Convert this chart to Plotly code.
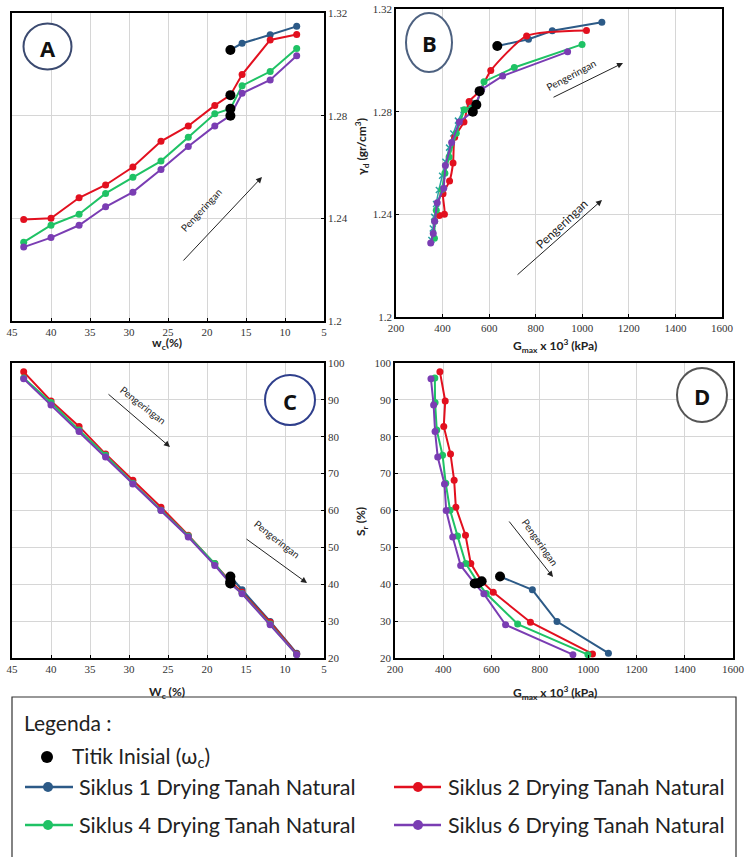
import plotly.graph_objects as go

# ---------------- data ----------------
wc_main = [43.5, 40.0, 36.4, 33.0, 29.5, 25.9, 22.4, 19.0, 17.0, 15.5, 11.9, 8.5]
wc_s1 = [17.0, 15.5, 11.9, 8.5]

gd_s1 = [1.3056, 1.3082, 1.3115, 1.3148]
gd_s2 = [1.2395, 1.2400, 1.2480, 1.2530, 1.2600, 1.2700, 1.2760, 1.2840, 1.2880, 1.2960, 1.3095, 1.3116]
gd_s4 = [1.2307, 1.2373, 1.2416, 1.2497, 1.2560, 1.2623, 1.2716, 1.2807, 1.2827, 1.2917, 1.2972, 1.3062]
gd_s6 = [1.2288, 1.2325, 1.2373, 1.2445, 1.2502, 1.2590, 1.2680, 1.2760, 1.2800, 1.2887, 1.2939, 1.3033]

sr_s1 = [42.1, 38.5, 29.9, 21.3]
sr_s2 = [97.6, 89.7, 82.8, 75.3, 68.2, 60.9, 53.3, 45.6, 40.8, 37.8, 29.7, 21.1]
sr_s4 = [95.9, 89.3, 81.8, 75.0, 67.4, 60.1, 53.1, 45.6, 40.3, 37.5, 29.2, 20.9]
sr_s6 = [95.7, 88.6, 81.4, 74.5, 67.2, 60.0, 52.8, 45.1, 40.2, 37.4, 29.0, 20.9]

g_s1 = [635, 769, 871, 1084]
g_s2 = [386, 408, 402, 430, 445, 452, 492, 514, 559, 607, 761, 1018]
g_s4 = [365, 366, 373, 397, 410, 428, 459, 493, 545, 578, 708, 999]
g_s6 = [349, 360, 366, 377, 405, 412, 439, 472, 530, 568, 658, 937]

# extra faint series visible only in panel B (x markers)
g_extra = [352, 358, 364, 372, 384, 398, 412, 428, 446, 466, 490, 515, 540]
gd_extra = [1.2300, 1.2345, 1.2390, 1.2440, 1.2495, 1.2550, 1.2605, 1.2660, 1.2715, 1.2765, 1.2805, 1.2820, 1.2835]

init_idx = 8  # index of initial point in the 12-point series

names = ["Siklus 1 Drying Tanah Natural", "Siklus 2 Drying Tanah Natural",
         "Siklus 4 Drying Tanah Natural", "Siklus 6 Drying Tanah Natural"]
colors = ["#2c5a87", "#e2101f", "#1fc265", "#7a3db3"]
init_name = "Titik Inisial (ω<sub>c</sub>)"
legend_title = "Legenda :"

W, H = 746, 857


def px(x, y):
    return x / W, 1 - y / H


fig = go.Figure()

series = [
    (wc_s1, gd_s1, sr_s1, g_s1),
    (wc_main, gd_s2, sr_s2, g_s2),
    (wc_main, gd_s4, sr_s4, g_s4),
    (wc_main, gd_s6, sr_s6, g_s6),
]

panels = [("x", "y", 0, 1), ("x2", "y2", 3, 1), ("x3", "y3", 0, 2), ("x4", "y4", 3, 2)]

fig.add_trace(go.Scatter(x=g_extra, y=gd_extra, mode="lines+markers", showlegend=False,
                         line=dict(color="#2aa3a3", width=1.5),
                         marker=dict(symbol="x-thin", size=6, line=dict(color="#2aa3a3", width=1.5)),
                         xaxis="x2", yaxis="y2", hoverinfo="skip"))

for pi, (xa, ya, xi, yi) in enumerate(panels):
    for si in range(4):
        s = series[si]
        shape = "spline" if (pi == 1 and si == 1) else "linear"
        fig.add_trace(go.Scatter(
            x=s[xi], y=s[yi], mode="lines+markers", name=names[si],
            line=dict(color=colors[si], width=2, shape=shape, smoothing=0.6),
            marker=dict(color=colors[si], size=7),
            showlegend=False, xaxis=xa, yaxis=ya))
    ix, iy = [], []
    for si in range(4):
        s = series[si]
        k = 0 if si == 0 else init_idx
        ix.append(s[xi][k])
        iy.append(s[yi][k])
    fig.add_trace(go.Scatter(x=ix, y=iy, mode="markers", name=init_name,
                             marker=dict(color="black", size=10),
                             showlegend=False, xaxis=xa, yaxis=ya))

# ---- custom legend glyphs on an overlay axis (page pixel units) ----
leg_rows = [
    (25, 73, 48, 787, 77, 0),
    (394, 441, 418, 787, 446, 1),
    (25, 73, 48, 825, 77, 2),
    (394, 441, 418, 825, 446, 3),
]
for x0, x1, xm, yy, xt, si in leg_rows:
    fig.add_trace(go.Scatter(x=[x0, xm, x1], y=[yy, yy, yy], mode="lines",
                             line=dict(color=colors[si], width=2.5), showlegend=False,
                             xaxis="x5", yaxis="y5", hoverinfo="skip"))
    fig.add_trace(go.Scatter(x=[xm], y=[yy], mode="markers",
                             marker=dict(color=colors[si], size=10), showlegend=False,
                             xaxis="x5", yaxis="y5", hoverinfo="skip"))
fig.add_trace(go.Scatter(x=[47], y=[757], mode="markers", marker=dict(color="black", size=12),
                         showlegend=False, xaxis="x5", yaxis="y5", hoverinfo="skip"))

tick_font = dict(family="Liberation Serif", size=11, color="#333333")
axis_common = dict(showline=True, linecolor="black", linewidth=1.5, mirror=True,
                   showgrid=True, gridcolor="#d6d6d6", gridwidth=1, zeroline=False,
                   ticks="inside", ticklen=3, tickcolor="black", tickfont=tick_font,
                   ticklabeloverflow="allow")

xa_dom = [px(12, 0)[0], px(324, 0)[0]]
xb_dom = [px(396, 0)[0], px(722, 0)[0]]
xd_dom = [px(395, 0)[0], px(733, 0)[0]]
ya_dom = [px(0, 321)[1], px(0, 13)[1]]
yb_dom = [px(0, 317)[1], px(0, 9)[1]]
yc_dom = [px(0, 658)[1], px(0, 363)[1]]

fig.update_layout(
    width=W, height=H, autosize=False,
    margin=dict(l=0, r=0, t=0, b=0, autoexpand=False),
    paper_bgcolor="white", plot_bgcolor="rgba(0,0,0,0)",
    showlegend=False,
    xaxis=dict(domain=xa_dom, range=[45, 5], dtick=5, anchor="y", **axis_common),
    yaxis=dict(domain=ya_dom, range=[1.2, 1.32], dtick=0.04, side="right", anchor="x", **axis_common),
    xaxis2=dict(domain=xb_dom, range=[200, 1600], dtick=200, anchor="y2", **axis_common),
    yaxis2=dict(domain=yb_dom, range=[1.2, 1.32], dtick=0.04, side="left", anchor="x2", **axis_common),
    xaxis3=dict(domain=xa_dom, range=[45, 5], dtick=5, anchor="y3", **axis_common),
    yaxis3=dict(domain=yc_dom, range=[20, 100], dtick=10, side="right", anchor="x3", **axis_common),
    xaxis4=dict(domain=xd_dom, range=[200, 1600], dtick=200, anchor="y4", **axis_common),
    yaxis4=dict(domain=yc_dom, range=[20, 100], dtick=10, side="left", anchor="x4", **axis_common),
    xaxis5=dict(domain=[0, 1], range=[0, W], visible=False, anchor="y5", fixedrange=True),
    yaxis5=dict(domain=[0, 1], range=[H, 0], visible=False, anchor="x5", fixedrange=True),
)

# ---------------- annotations ----------------
ann = []


def text_ann(x, y, text, size=12, angle=0, family="Lato", color="#222", xanchor="center"):
    xx, yy = px(x, y)
    ann.append(dict(x=xx, y=yy, xref="paper", yref="paper", text=text, showarrow=False,
                    textangle=angle, font=dict(family=family, size=size, color=color),
                    xanchor=xanchor, yanchor="middle"))


def arrow(tx, ty, hx, hy):
    xx, yy = px(hx, hy)
    ann.append(dict(x=xx, y=yy, xref="paper", yref="paper", text="", showarrow=True,
                    ax=tx - hx, ay=ty - hy, arrowhead=2, arrowsize=1.2, arrowwidth=1,
                    arrowcolor="#222"))


# axis titles
text_ann(167, 344, "<b>w<sub>c</sub>(%)</b>", 12)
text_ann(555, 346, "<b>G<sub>max</sub> x 10<sup>3</sup> (kPa)</b>", 12)
text_ann(167, 692, "<b>W<sub>c</sub> (%)</b>", 12)
text_ann(555, 693, "<b>G<sub>max</sub> x 10<sup>3</sup> (kPa)</b>", 12)
text_ann(362, 147, "<b>γ<sub>d</sub> (gr/cm<sup>3</sup>)</b>", 12, -90)
text_ann(361, 522, "<b>S<sub>r</sub> (%)</b>", 12, -90)

# arrows + Pengeringan labels
arrow(182, 262, 262, 177)
text_ann(201, 210, "Pengeringan", 10, -47)
arrow(552, 98, 623, 63)
text_ann(571, 75, "Pengeringan", 10, -28)
arrow(516, 276, 602, 200)
text_ann(561, 224, "Pengeringan", 12, -43)
arrow(107, 393, 170, 447)
text_ann(143, 405, "Pengeringan", 10, 38)
arrow(245, 538, 307, 583)
text_ann(277, 539, "Pengeringan", 10, 38)
arrow(508, 520, 553, 577)
text_ann(540, 542, "Pengeringan", 10, 55)

# legend texts
text_ann(22, 722, legend_title, 21, 0, "Lato", "#222", "left")
text_ann(70, 757, init_name, 21, 0, "Lato", "#222", "left")
for x0, x1, xm, yy, xt, si in leg_rows:
    text_ann(xt, yy, names[si], 21.5, 0, "Lato", "#222", "left")

# panel letters
letters = [("A", 47.5, 46.5, 24, 23, "#3b4a70"),
           ("B", 429, 42.5, 23, 29.5, "#4d6180"),
           ("C", 290, 400, 25, 25, "#2f3f8c"),
           ("D", 702, 395, 25, 27, "#555555")]
shapes = []
for t, cx, cy, rx, ry, col in letters:
    x0, y1 = px(cx - rx, cy - ry)
    x1, y0 = px(cx + rx, cy + ry)
    shapes.append(dict(type="circle", xref="paper", yref="paper", x0=x0, x1=x1, y0=y0, y1=y1,
                       line=dict(color=col, width=2), fillcolor="white", layer="above"))
    text_ann(cx, cy + 1, "<b>%s</b>" % t, 22, 0, "Open Sans", "#111")

# legend frame (bottom edge runs past the page, as in the original)
lx0, ly1 = px(12, 697)
lx1, _ = px(736, 0)
shapes.append(dict(type="rect", xref="paper", yref="paper", x0=lx0, x1=lx1, y0=-0.02, y1=ly1,
                   line=dict(color="#333", width=1.2), fillcolor="rgba(0,0,0,0)", layer="below"))

fig.update_layout(annotations=ann, shapes=shapes)

fig.write_html("out.html", config={"displayModeBar": False},
               post_script="document.body.style.margin='0';document.body.style.overflow='hidden';")
